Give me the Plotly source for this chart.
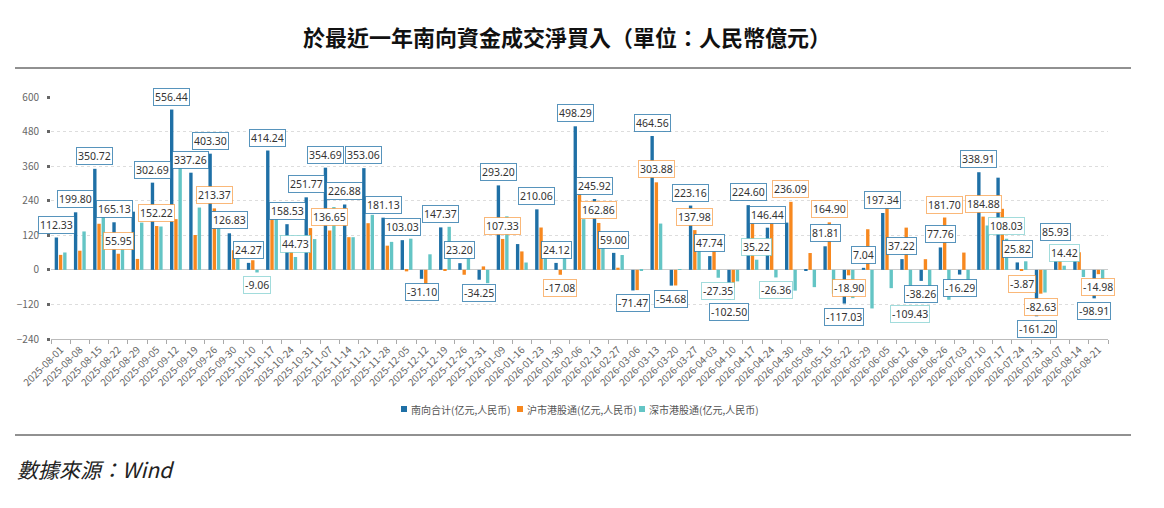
import plotly.graph_objects as go

# weekly dates (x categories)
dates = [
    "2025-08-01", "2025-08-08", "2025-08-15", "2025-08-22", "2025-08-29",
    "2025-09-05", "2025-09-12", "2025-09-19", "2025-09-26", "2025-09-30",
    "2025-10-10", "2025-10-17", "2025-10-24", "2025-10-31", "2025-11-07",
    "2025-11-14", "2025-11-21", "2025-11-28", "2025-12-05", "2025-12-12",
    "2025-12-19", "2025-12-26", "2025-12-31", "2026-01-09", "2026-01-16",
    "2026-01-23", "2026-01-30", "2026-02-06", "2026-02-13", "2026-02-27",
    "2026-03-06", "2026-03-13", "2026-03-20", "2026-03-27", "2026-04-03",
    "2026-04-10", "2026-04-17", "2026-04-24", "2026-04-30", "2026-05-08",
    "2026-05-15", "2026-05-22", "2026-05-29", "2026-06-05", "2026-06-12",
    "2026-06-18", "2026-06-26", "2026-07-03", "2026-07-10", "2026-07-17",
    "2026-07-24", "2026-07-31", "2026-08-07", "2026-08-14", "2026-08-21",
]

# 南向合计
total = [
    112.33, 199.80, 350.72, 165.13, 202.00, 302.69, 556.44, 337.26, 403.30, 126.83,
    24.27, 414.24, 158.53, 251.77, 354.69, 226.88, 353.06, 181.13, 103.03, -31.10,
    147.37, 23.20, -34.25, 293.20, 89.50, 210.06, 24.12, 498.29, 245.92, 59.00,
    -71.47, 464.56, -54.68, 223.16, 47.74, -102.50, 224.60, 146.44, 164.00, -1.60,
    81.81, -117.03, 7.04, 197.34, 37.22, -38.26, 77.76, -16.29, 338.91, 320.00,
    25.82, -161.20, 85.93, 36.40, -98.91,
]

# 沪市港股通
sh_connect = [
    52.00, 66.50, 160.00, 55.95, 38.00, 152.22, 176.00, 121.00, 213.37, 68.00,
    33.33, 207.00, 113.80, 145.00, 136.65, 113.50, 162.00, 84.00, -5.20, -85.10,
    -2.00, -17.00, 12.00, 107.33, 64.00, 147.00, -17.08, 322.30, 162.86, 7.50,
    -70.20, 303.88, -54.20, 137.98, 75.09, -62.50, 189.38, 172.80, 236.09, 58.40,
    164.90, -18.90, 141.00, 260.80, 146.65, 37.00, 181.70, 60.00, 184.88, 211.97,
    -3.87, -82.63, 71.51, 61.20, -14.98,
]

# 深市港股通
sz_connect = [
    60.33, 133.30, 190.72, 109.18, 164.00, 150.47, 380.44, 216.26, 189.93, 58.83,
    -9.06, 207.24, 44.73, 106.77, 218.04, 113.38, 191.06, 97.13, 108.23, 54.00,
    149.37, 40.20, -46.25, 185.87, 25.50, 63.06, 41.20, 176.00, 83.06, 51.50,
    -1.27, 160.68, -0.48, 85.18, -27.35, -40.00, 35.22, -26.36, -72.09, -60.00,
    -83.09, -98.13, -133.96, -63.46, -109.43, -75.26, -103.94, -76.29, 154.03, 108.03,
    29.69, -78.57, 14.42, -24.80, -83.93,
]

# value labels that are visible in the chart (the rest are hidden by overlap)
total_label_hidden = ["2025-08-29", "2026-01-16", "2026-04-30", "2026-05-08",
                      "2026-07-17", "2026-08-14"]
sh_label_dates = ["2025-08-22", "2025-09-05", "2025-09-26", "2025-11-07", "2026-01-09",
                  "2026-01-30", "2026-02-13", "2026-03-13", "2026-03-27", "2026-04-30",
                  "2026-05-15", "2026-05-22", "2026-06-26", "2026-07-10", "2026-07-24",
                  "2026-07-31", "2026-08-21"]
sz_label_dates = ["2025-10-10", "2025-10-24", "2026-04-03", "2026-04-17", "2026-04-24",
                  "2026-06-12", "2026-07-17", "2026-08-07"]

series_names = ["南向合计(亿元,人民币)", "沪市港股通(亿元,人民币)", "深市港股通(亿元,人民币)"]
colors = ["#1f70a6", "#f7881f", "#64c5c5"]
label_borders = ["rgba(31,112,166,0.75)", "rgba(247,136,31,0.6)", "rgba(100,197,197,0.6)"]

W, H = 1164, 508
# the page body adds an 8px margin, so the figure sits 8px right/down on screen
OX, OY = 8, 8
# plot box in screen pixels
SL, ST, SR, SB = 51, 97, 1108, 339
plot_w = SR - SL
plot_h = SB - ST
BARGAP = 0.34


def px_x(sx):
    return (sx - SL) / plot_w


def px_y(sy):
    return (SB - sy) / plot_h


fig = go.Figure()
for name, vals, col in zip(series_names, [total, sh_connect, sz_connect], colors):
    fig.add_trace(go.Bar(x=dates, y=vals, name=name, marker_color=col,
                         marker_line_width=0, showlegend=False))

# data labels
cat_w = plot_w / len(dates)
slot = cat_w * (1 - BARGAP) / 3
label_sets = [
    [d for d in dates if d not in total_label_hidden],
    sh_label_dates,
    sz_label_dates,
]
annotations = []
for k, vals in enumerate([total, sh_connect, sz_connect]):
    for d, v in zip(dates, vals):
        if d not in label_sets[k]:
            continue
        annotations.append(dict(
            x=d, y=v, xref="x", yref="y", text=f"{v:.2f}", showarrow=False,
            xshift=(k - 1) * slot,
            yanchor="bottom" if v >= 0 else "top",
            yshift=4 if v >= 0 else -4,
            font=dict(size=10.5, color="#333", family="Noto Sans"),
            bgcolor="white", bordercolor=label_borders[k], borderwidth=1, borderpad=1,
        ))

annotations.append(dict(
    text="於最近一年南向資金成交淨買入（單位：人民幣億元）",
    xref="paper", yref="paper", x=px_x(567), y=px_y(36),
    xanchor="center", yanchor="middle", showarrow=False,
    font=dict(size=22, color="#111", family="Noto Sans CJK TC", weight="bold"),
))
annotations.append(dict(
    text="<i>數據來源：Wind</i>",
    xref="paper", yref="paper", x=px_x(15), y=px_y(469),
    xanchor="left", yanchor="middle", showarrow=False,
    font=dict(size=21, color="#222", family="Noto Sans CJK TC"),
))

shapes = [
    dict(type="line", xref="paper", yref="paper", x0=px_x(15), x1=px_x(1131),
         y0=px_y(68), y1=px_y(68), line=dict(color="#222", width=1)),
    dict(type="line", xref="paper", yref="paper", x0=px_x(15), x1=px_x(1131),
         y0=px_y(435), y1=px_y(435), line=dict(color="#222", width=1)),
]

# compact legend: small square + text
legend_x = [401, 517, 639]
for sx, name, col in zip(legend_x, series_names, colors):
    shapes.append(dict(type="rect", xref="paper", yref="paper",
                       x0=px_x(sx), x1=px_x(sx + 6), y0=px_y(406), y1=px_y(412),
                       fillcolor=col, line=dict(width=0)))
    annotations.append(dict(
        text=name, xref="paper", yref="paper", x=px_x(sx + 8), y=px_y(409),
        xanchor="left", yanchor="middle", showarrow=False,
        font=dict(size=10, color="#555", family="Noto Sans CJK SC"),
    ))

fig.update_layout(
    width=W, height=H, autosize=False,
    margin=dict(l=SL - OX, r=W - (SR - OX), t=ST - OY, b=H - (SB - OY)),
    paper_bgcolor="white", plot_bgcolor="white",
    barmode="group", bargap=BARGAP, bargroupgap=0.2,
    font=dict(family="Noto Sans CJK SC", size=10, color="#666"),
    showlegend=False,
    annotations=annotations,
    shapes=shapes,
    xaxis=dict(
        type="category", range=[-0.5, len(dates) - 0.5],
        tickangle=-45, tickson="boundaries", automargin=False,
        ticks="outside", ticklen=4, tickcolor="#aaa",
        showline=True, linecolor="#bbb", showgrid=False,
        tickfont=dict(size=10, color="#666"),
    ),
    yaxis=dict(
        range=[-240, 600], tickvals=[-240, -120, 0, 120, 240, 360, 480, 600],
        automargin=False,
        showgrid=True, gridcolor="#ddd", griddash="dot",
        zeroline=True, zerolinecolor="#ccc", zerolinewidth=1,
        ticks="outside", ticklen=3, tickwidth=3, tickcolor="#666",
        ticklabelstandoff=6,
        tickfont=dict(size=10, color="#666"),
    ),
)

fig.write_html("out.html")
